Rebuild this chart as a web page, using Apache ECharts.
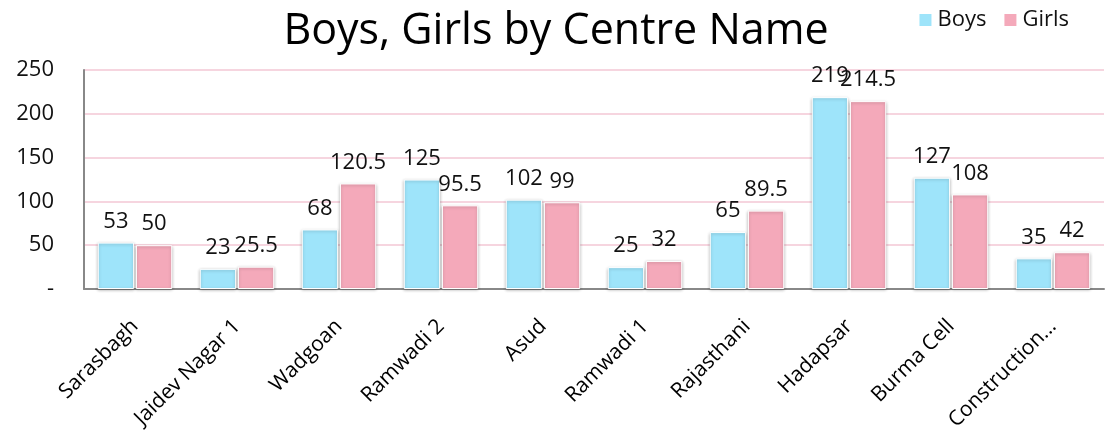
<!DOCTYPE html>
<html>
<head>
<meta charset="utf-8">
<script src="https://cdn.jsdelivr.net/npm/echarts@6/dist/echarts.min.js"></script>
<style>
  html, body { margin: 0; padding: 0; background: #fff; }
  #chart { width: 1112px; height: 448px; }
</style>
</head>
<body>
<div id="chart"></div>
<script>
const centres = ["Sarasbagh", "Jaidev Nagar 1", "Wadgoan", "Ramwadi 2", "Asud",
  "Ramwadi 1", "Rajasthani", "Hadapsar", "Burma Cell", "Construction..."];
const boys = [53, 23, 68, 125, 102, 25, 65, 219, 127, 35];
const girls = [50, 25.5, 120.5, 95.5, 99, 32, 89.5, 214.5, 108, 42];

const font = "Open Sans";

const barStyle = (color) => ({
  color: color,
  borderColor: "#fff",
  borderWidth: 1,
  shadowColor: "rgba(0,0,0,0.25)",
  shadowBlur: 3,
  shadowOffsetY: 1
});

const labelStyle = {
  show: true,
  position: "top",
  distance: 10,
  color: "#111",
  fontFamily: font,
  fontSize: 22
};

const option = {
  backgroundColor: "#fff",
  animation: false,
  title: {
    text: "Boys, Girls by Centre Name",
    left: "center",
    top: 5,
    textStyle: { fontFamily: font, fontSize: 43, fontWeight: "normal", color: "#000" }
  },
  legend: {
    right: 38,
    top: 4,
    itemWidth: 14,
    itemHeight: 14,
    itemGap: 16,
    icon: "rect",
    textStyle: { fontFamily: font, fontSize: 22, color: "#111" }
  },
  grid: { left: 84, right: 8, top: 70, bottom: 159 },
  xAxis: {
    type: "category",
    data: centres,
    axisLine: { lineStyle: { color: "#888", width: 2 } },
    axisTick: { show: false },
    axisLabel: {
      rotate: 45,
      margin: 34,
      interval: 0,
      color: "#000",
      fontFamily: font,
      fontSize: 21
    }
  },
  yAxis: {
    type: "value",
    min: 0,
    max: 250,
    interval: 50,
    axisLine: { show: true, lineStyle: { color: "#888", width: 2 } },
    axisTick: { show: false },
    splitLine: { lineStyle: { color: "#F6D5DF", width: 2 } },
    axisLabel: {
      margin: 30,
      color: "#111",
      fontFamily: font,
      fontSize: 22,
      formatter: (v) => (v === 0 ? "-" : v)
    }
  },
  series: [
    {
      name: "Boys",
      type: "bar",
      data: boys,
      barGap: "5%",
      barCategoryGap: "27%",
      itemStyle: barStyle("#9EE4FA"),
      label: labelStyle
    },
    {
      name: "Girls",
      type: "bar",
      data: girls,
      itemStyle: barStyle("#F4A9BA"),
      label: labelStyle
    }
  ]
};

const chart = echarts.init(document.getElementById("chart"));
chart.setOption(option);
window.addEventListener("resize", () => chart.resize());
</script>
</body>
</html>
